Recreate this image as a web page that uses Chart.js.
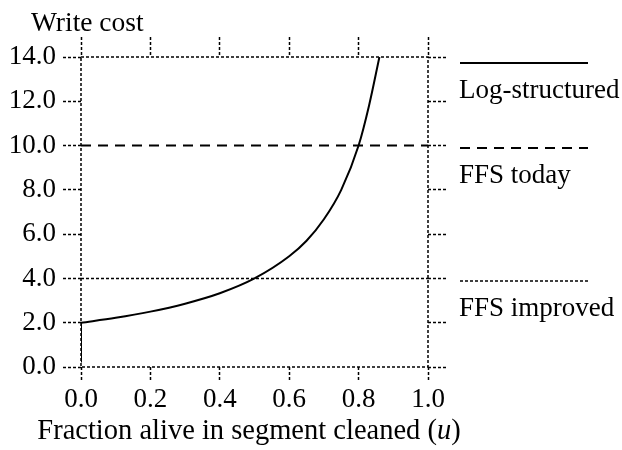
<!DOCTYPE html>
<html>
<head>
<meta charset="utf-8">
<script src="https://cdn.jsdelivr.net/npm/chart.js@4"></script>
<style>
  html, body { margin: 0; padding: 0; background: #fff; }
  #wrap { width: 622px; height: 450px; }
</style>
</head>
<body>
<div id="wrap"><canvas id="myChart" width="622" height="450"></canvas></div>
<script>
// values
let u = [0.0, 0.1, 0.2, 0.3, 0.4, 0.5, 0.6, 0.65, 0.7, 0.75, 0.8, 0.83, 0.86];
let logCost = [2.0, 2.22, 2.5, 2.86, 3.33, 4.0, 5.0, 5.7, 6.67, 8.0, 10.0, 11.8, 14.0];
let stubU = [0.0, 0.0];
let stubCost = [2.0, 0.2];
let ffsToday = 10.0;
let ffsImproved = 4.0;
let uRange = [0.0, 1.0];
let costRange = [0.0, 14.0];

const font = '"Liberation Serif", "Times New Roman", serif';
const dot = [3, 2];

function pts(xs, ys) {
  return xs.map((x, i) => ({ x: x, y: ys[i] }));
}

// dotted frame round the plot area
const frame = {
  id: 'frame',
  beforeDatasetsDraw(chart) {
    const a = chart.chartArea;
    const c = chart.ctx;
    c.save();
    c.strokeStyle = '#000';
    c.lineWidth = 1.5;
    c.setLineDash(dot);
    c.strokeRect(a.left, a.top, a.right - a.left, a.bottom - a.top);
    c.restore();
  }
};

// legend, axis titles
const extras = {
  id: 'extras',
  afterDraw(chart) {
    const c = chart.ctx;
    c.save();
    c.fillStyle = '#000';
    c.strokeStyle = '#000';
    c.font = '27.5px ' + font;
    c.textBaseline = 'alphabetic';
    c.textAlign = 'left';
    c.fillText('Write cost', 31, 31);

    // x title with italic u
    const tf = '28.5px ' + font;
    const tfi = 'italic 28.5px ' + font;
    let t1 = 'Fraction alive in segment cleaned (';
    c.font = tf;
    let w1 = c.measureText(t1).width;
    c.font = tfi;
    let w2 = c.measureText('u').width;
    c.font = tf;
    let w3 = c.measureText(')').width;
    let x0 = 249 - (w1 + w2 + w3) / 2;
    c.fillText(t1, x0, 439);
    c.font = tfi;
    c.fillText('u', x0 + w1, 439);
    c.font = tf;
    c.fillText(')', x0 + w1 + w2, 439);

    // legend
    c.font = '27px ' + font;
    const items = [
      { label: 'Log-structured', y: 63, dash: [], w: 2 },
      { label: 'FFS today', y: 148, dash: [10, 7], w: 2 },
      { label: 'FFS improved', y: 281, dash: dot, w: 1.5 }
    ];
    items.forEach(it => {
      c.beginPath();
      c.setLineDash(it.dash);
      c.lineWidth = it.w;
      c.moveTo(460, it.y);
      c.lineTo(588, it.y);
      c.stroke();
      c.fillText(it.label, 459, it.y + 35);
    });
    c.restore();
  }
};

const axisGrid = (len) => ({
  drawOnChartArea: false,
  drawTicks: true,
  tickLength: len,
  tickColor: '#000',
  tickWidth: 1.5,
  tickBorderDash: dot,
  color: '#000'
});
const axisBorder = { display: false };

new Chart(document.getElementById('myChart'), {
  type: 'scatter',
  data: {
    datasets: [
      {
        label: 'Log-structured',
        data: pts(u, logCost),
        showLine: true,
        borderColor: '#000',
        borderWidth: 2,
        pointRadius: 0,
        cubicInterpolationMode: 'monotone'
      },
      {
        label: 'Log-structured stub',
        data: pts(stubU, stubCost),
        showLine: true,
        borderColor: '#000',
        borderWidth: 2,
        pointRadius: 0
      },
      {
        label: 'FFS today',
        data: pts(uRange, [ffsToday, ffsToday]),
        showLine: true,
        borderColor: '#000',
        borderWidth: 2,
        borderDash: [10, 7],
        pointRadius: 0
      },
      {
        label: 'FFS improved',
        data: pts(uRange, [ffsImproved, ffsImproved]),
        showLine: true,
        borderColor: '#000',
        borderWidth: 1.5,
        borderDash: dot,
        pointRadius: 0
      }
    ]
  },
  options: {
    responsive: false,
    animation: false,
    layout: { padding: 0 },
    plugins: { legend: { display: false }, tooltip: { enabled: false } },
    scales: {
      x: {
        type: 'linear', position: 'bottom',
        min: uRange[0], max: uRange[1],
        ticks: {
          stepSize: 0.2, color: '#000', padding: 4,
          font: { family: font, size: 27 }, maxRotation: 0,
          callback: v => v.toFixed(1)
        },
        grid: axisGrid(13), border: axisBorder,
        afterFit: s => { s.height = 450 - 367; }
      },
      x2: {
        type: 'linear', position: 'top',
        min: uRange[0], max: uRange[1],
        ticks: { stepSize: 0.2, display: false },
        grid: axisGrid(20), border: axisBorder,
        afterFit: s => { s.height = 57; }
      },
      y: {
        type: 'linear', position: 'left',
        min: costRange[0], max: costRange[1],
        ticks: {
          stepSize: 2, color: '#000', padding: 7,
          font: { family: font, size: 27 },
          callback: v => v.toFixed(1)
        },
        grid: axisGrid(18), border: axisBorder,
        afterFit: s => { s.width = 81; }
      },
      y2: {
        type: 'linear', position: 'right',
        min: costRange[0], max: costRange[1],
        ticks: { stepSize: 2, display: false },
        grid: axisGrid(18), border: axisBorder,
        afterFit: s => { s.width = 622 - 428; }
      }
    }
  },
  plugins: [frame, extras]
});
</script>
</body>
</html>
